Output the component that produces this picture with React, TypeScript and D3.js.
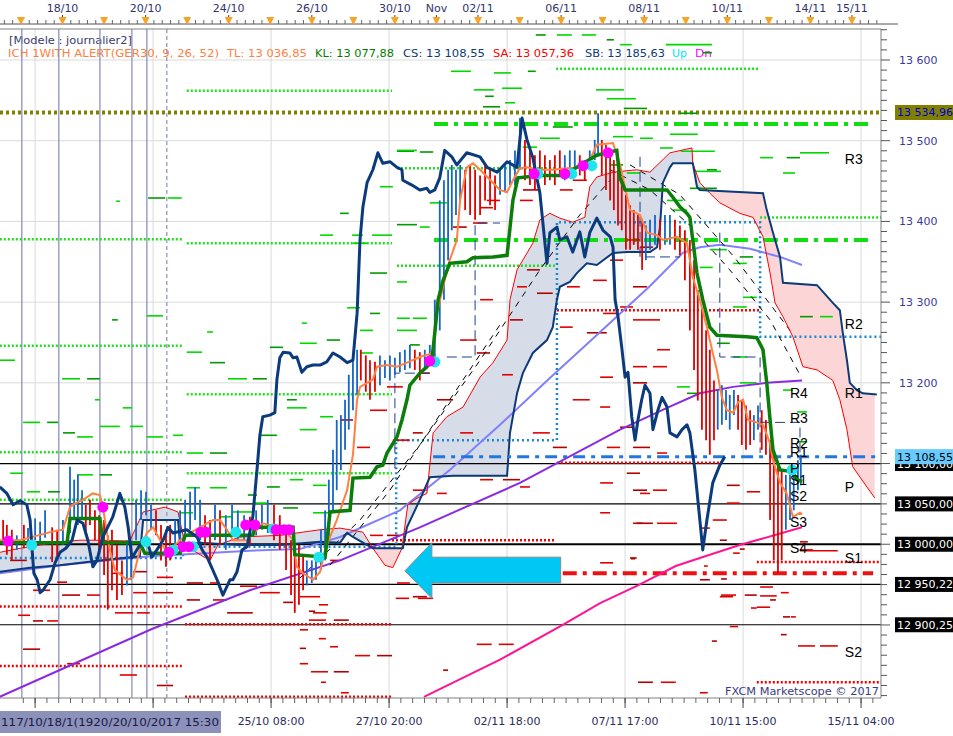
import React from "react";
import * as d3 from "d3";

// time axis: trading-day index (0 = 17/10), price axis: GER30 points
const W = 953;
const H = 736;
const plot = { left: 0, right: 881, top: 29, bottom: 698 };

const dayLabels: [number, string][] = [
  [1, "18/10"], [3, "20/10"], [5, "24/10"], [7, "26/10"], [9, "30/10"], [10, "Nov"],
  [11, "02/11"], [13, "06/11"], [15, "08/11"], [17, "10/11"], [19, "14/11"], [20, "15/11"],
];
const dayTicks = d3.range(0, 21);
const gridTimes = [0.34, 3.18, 6.02, 8.86, 11.7, 14.54, 17.38, 20.22];
const bottomLabels: [number, string][] = [
  [6.02, "25/10 08:00"], [8.86, "27/10 20:00"], [11.7, "02/11 18:00"],
  [14.54, "07/11 17:00"], [17.38, "10/11 15:00"], [20.22, "15/11 04:00"],
];
const priceTicks = [13200, 13300, 13400, 13500, 13600];
const sessionLines = [0.02, 0.91, 1.9, 2.67, 3.03];
const sessionDashed = [3.51];

const blackLevels = [13100, 13050, 13000, 12950.22, 12900.25];
const oliveLevel = 13534.96;
const lastClose = 13108.55;

// [tStart, tEnd, value]
const greenDashDot: [number, number, number][] = [[9.94, 20.48, 13520.7], [9.94, 20.48, 13377]];
const blueDashDot: [number, number, number][] = [[9.92, 20.7, 13108.55]];
const redDashDot: [number, number, number][] = [[13.04, 20.51, 12964]];

const greenDotted: [number, number, number][] = [
  [-0.51, 3.9, 13378], [-0.51, 3.9, 13246], [-0.51, 3.9, 13114], [-0.51, 3.9, 13055],
  [3.99, 8.93, 13562], [3.99, 8.93, 13373], [3.99, 8.93, 13186], [3.99, 8.93, 13088],
  [9.05, 12.85, 13466], [9.05, 12.85, 13345],
  [12.88, 17.79, 13589], [17.79, 20.7, 13405],
];
const redDotted: [number, number, number][] = [
  [-0.51, 3.9, 12923], [-0.51, 3.9, 12849],
  [3.95, 8.93, 12901], [3.95, 8.93, 12811],
  [8.93, 12.85, 13005],
  [12.9, 17.79, 13290], [12.9, 16.87, 13101],
  [17.71, 20.7, 12978], [17.71, 20.7, 12829],
];
const weeklyPivot: [number, number][] = [
  [-0.51, 12983], [3.9, 12997], [9.03, 13129], [12.9, 13399], [17.79, 13257], [20.7, 13257],
];

const greenDashes: [number, number, number][] = [
  [12.39, 12.63, 13631], [12.9, 13.26, 13631], [13.5, 13.84, 13631], [14.1, 14.27, 13625],
  [14.42, 14.7, 13619], [15.52, 16.63, 13619], [16.41, 16.63, 13609], [10.35, 10.83, 13586],
  [11.38, 11.79, 13584], [12.2, 12.39, 13586], [10.9, 11.38, 13563], [11.58, 12.06, 13565],
  [11.17, 11.38, 13555], [13.84, 14.51, 13563], [14.1, 14.8, 13552], [14.51, 15.07, 13540],
  [15.62, 16.29, 13508], [15.88, 16.7, 13487], [9.05, 9.46, 13487], [18.75, 19.45, 13485],
  [17.79, 18.1, 13479], [18.43, 18.75, 13479], [16.22, 16.85, 13462], [18.34, 18.63, 13460],
  [3.06, 3.47, 13429], [3.54, 3.87, 13429], [2.29, 2.38, 13425], [7.68, 7.89, 13410],
  [7.97, 8.23, 13383], [8.45, 8.93, 13383], [15.86, 16.27, 13534], [14.9, 15.21, 13503],
  [15.38, 15.69, 13491], [16.51, 16.75, 13464], [15.55, 15.93, 13426], [15.69, 16.03, 13414],
  [16.1, 16.75, 13441], [16.58, 16.99, 13365], [17.14, 17.47, 13348], [17.3, 17.62, 13356],
  [16.34, 16.65, 13343], [17.38, 17.71, 13306], [18.75, 19.06, 13282], [19.23, 19.54, 13282],
  [17.14, 17.47, 13294], [16.75, 17.06, 13249], [17.14, 17.47, 13232], [15.79, 16.1, 13195],
  [16.03, 16.34, 13187], [17.3, 17.71, 13200], [18.68, 18.92, 13164], [18.68, 18.92, 13127],
  [18.34, 18.58, 13191],
  [3.03, 3.42, 13283], [2.19, 2.33, 13278], [4.48, 4.62, 13263], [3.99, 4.36, 13238],
  [4.55, 4.91, 13225], [-0.51, -0.14, 13228], [0.99, 1.42, 13205], [1.59, 1.9, 13205],
  [2.45, 2.67, 13169], [4.98, 5.44, 13205], [5.58, 5.92, 13205], [1.78, 1.9, 13179],
  [6.76, 6.88, 13274], [5.99, 6.31, 13244], [6.71, 7.12, 13249], [0.05, 0.46, 13151],
  [0.63, 0.89, 13151], [1.9, 2.38, 13146], [2.62, 2.94, 13146], [1.01, 1.3, 13138],
  [1.35, 1.73, 13133], [3.99, 4.38, 13113], [4.55, 4.96, 13113], [3.03, 3.42, 13133],
  [3.66, 3.9, 13135], [6.4, 6.64, 13179], [6.4, 6.88, 13169], [7.2, 7.51, 13158],
  [5.75, 6.16, 13135], [6.71, 7.12, 13142], [0.14, 0.46, 13065], [0.65, 0.94, 13065],
  [-0.26, 0.05, 13088], [1.35, 1.73, 13086], [1.9, 2.19, 13086], [3.99, 4.31, 13070],
  [4.55, 4.96, 13070], [5.46, 5.68, 13061], [4.79, 5.1, 13034], [5.1, 5.58, 13040],
  [5.92, 6.23, 13071], [6.47, 6.79, 13080], [7.03, 7.36, 13073], [3.3, 3.71, 13030],
  [3.83, 4.14, 13039], [5.58, 5.92, 13051], [6.31, 6.67, 13045], [7.03, 7.44, 13039],
  [9.05, 9.53, 13488], [9.6, 9.92, 13486], [8.64, 8.95, 13443], [9.84, 10.25, 13423],
  [11.12, 11.53, 13542], [11.65, 11.89, 13547], [12.49, 12.97, 13503], [12.8, 13.28, 13517],
  [12.08, 12.42, 13492], [14.25, 14.73, 13505], [14.18, 14.49, 13470], [14.58, 14.9, 13460],
  [7.2, 7.51, 13383], [9.05, 9.53, 13396], [9.6, 9.84, 13393], [7.99, 8.33, 13373],
  [8.4, 8.81, 13336], [9.05, 9.29, 13325], [7.85, 8.16, 13293], [8.4, 8.64, 13286],
  [9.05, 9.36, 13280], [9.43, 9.77, 13280], [7.36, 7.68, 13253], [8.16, 8.47, 13265],
  [9.05, 9.53, 13265], [9.36, 9.6, 13247], [8.16, 8.47, 13237],
];

const redDashes: [number, number, number][] = [
  [-0.26, 0.14, 12980], [0.87, 1.11, 12953], [0.29, 0.7, 12943], [0.99, 1.42, 12937],
  [1.59, 1.9, 12937], [-0.07, 0.22, 12912], [0.29, 0.53, 12905], [0.63, 0.89, 12905],
  [2.19, 2.45, 12964], [2.7, 3.03, 12966], [3.27, 3.66, 12959], [2.7, 3.03, 12940],
  [3.18, 3.66, 12940], [2.26, 2.7, 12915], [2.79, 3.1, 12915], [3.99, 4.38, 12952],
  [4.55, 4.79, 12952], [5.27, 5.68, 12948], [3.99, 4.31, 12931], [4.62, 4.96, 12931],
  [5.75, 6.23, 12940], [6.31, 6.55, 12928], [6.71, 7.2, 12935], [7.03, 7.36, 12915],
  [4.96, 5.58, 12915], [9.02, 9.34, 12933], [9.55, 9.92, 12933], [6.93, 7.08, 12917],
  [7.17, 7.39, 12925], [6.93, 7.34, 12906], [7.53, 7.89, 12906], [6.71, 6.91, 12894],
  [7.17, 7.34, 12883], [6.71, 6.86, 12871], [7.44, 7.63, 12873], [8.04, 8.4, 12862],
  [8.57, 8.93, 12862], [6.71, 6.91, 12852], [6.98, 7.39, 12842], [7.53, 7.89, 12842],
  [7.22, 7.34, 12829], [7.7, 7.89, 12816], [10.16, 10.28, 12844], [10.97, 11.33, 12876],
  [11.5, 11.86, 12876], [14.85, 15.21, 12829], [15.4, 15.76, 12829], [16.34, 16.53, 12816],
  [16.63, 16.75, 12880], [17.06, 17.26, 12898], [16.85, 17.21, 12937], [17.42, 17.71, 12937],
  [17.79, 18.19, 12936], [18.29, 18.48, 12940], [18.03, 18.17, 12931], [17.57, 17.71, 12921],
  [18.53, 18.65, 12910], [18.29, 18.43, 12888], [18.7, 19.11, 12874], [19.23, 19.66, 12874],
  [16.85, 16.99, 12957], [16.44, 16.53, 12973], [14.68, 14.78, 12982], [17.3, 17.42, 12994],
  [18.75, 18.94, 13003], [18.75, 19.66, 12992],
  [0.05, 0.46, 12870], [1.11, 1.42, 12852], [2.38, 2.79, 12838], [3.27, 3.66, 12825],
  [10.88, 11.21, 13398], [11.05, 11.36, 13417], [10.4, 10.73, 13393], [11.21, 11.53, 13426],
  [12.01, 12.32, 13426], [12.08, 12.49, 13439], [10.57, 10.97, 13253], [11.05, 11.36, 13303],
  [10.97, 11.29, 13237], [11.58, 11.84, 13210], [9.6, 9.84, 13212], [10.01, 10.4, 13179],
  [8.4, 8.81, 13166], [8.81, 9.19, 13195], [7.68, 7.99, 13154], [8.09, 8.4, 13120],
  [8.95, 9.36, 13129], [9.43, 9.67, 13138], [10.57, 10.88, 13138], [12.32, 12.73, 13138],
  [12.8, 13.14, 13120], [12.01, 12.25, 13071], [11.05, 11.36, 13080], [11.6, 12.01, 13080],
  [10.01, 10.25, 13063], [9.43, 9.77, 13067], [8.81, 9.12, 13011], [8.4, 8.71, 13011],
  [7.44, 7.68, 12980], [9.43, 9.77, 12935], [9.05, 9.36, 12952], [14.1, 14.42, 13120],
  [14.58, 14.9, 13088], [14.73, 14.97, 13026], [14.9, 15.14, 13063], [14.42, 14.73, 13145],
  [13.28, 13.69, 13179], [13.94, 14.25, 13207], [13.62, 13.94, 13262], [14.01, 14.34, 13286],
  [12.97, 13.28, 13269], [12.42, 12.8, 13311], [11.94, 12.18, 13319], [13.14, 13.45, 13319],
  [12.18, 12.49, 13340], [12.97, 13.28, 13439], [13.28, 13.62, 13451], [11.77, 12.08, 13278],
  [13.77, 14.1, 13327], [14.42, 14.73, 13294], [14.73, 15.07, 13319], [14.18, 14.49, 13352],
  [14.58, 14.9, 13377], [14.9, 15.21, 13368],
  [14.73, 15.07, 13278], [15.07, 15.38, 13278], [13.94, 14.1, 13262], [14.73, 15.07, 13220],
  [15.21, 15.55, 13220], [14.73, 15.07, 13200], [15.31, 15.62, 13241], [13.94, 14.18, 13170],
  [14.73, 15.14, 13120], [15.31, 15.55, 13113], [13.94, 14.25, 13076], [14.73, 15.07, 13067],
  [15.21, 15.55, 13067], [13.94, 14.18, 13039], [14.82, 15.21, 13026], [15.31, 15.79, 13026],
  [13.94, 14.25, 12977], [14.66, 14.82, 12983], [16.34, 16.58, 13020], [16.65, 16.99, 13030],
  [16.99, 17.3, 13073], [16.99, 17.3, 13051], [17.47, 17.79, 13065], [16.82, 16.99, 13005],
  [17.14, 17.3, 12989], [17.79, 18.1, 12947], [16.34, 16.58, 12956], [16.82, 17.14, 12935],
  [17.71, 18.03, 12922], [18.34, 18.51, 12910], [18.75, 19.06, 12993],
];

// daily range boxes (thin navy dashed)
const rangeBoxes: [number, number][][] = [
  [[10.25, 13232], [10.93, 13232], [10.93, 13398], [11.53, 13398]],
  [[9.84, 13212], [9.0, 13212], [9.0, 13092]],
  [[14.9, 13480], [14.9, 13356], [15.86, 13356]],
  [[16.82, 13386], [16.82, 13232], [17.79, 13232], [17.79, 13113]],
  [[17.79, 13151], [18.75, 13151], [18.75, 13104]],
];

// price bars [t, high, low, up]
const bars: [number, number, number, number][] = [
  [-0.43, 13030, 12999, 0], [-0.34, 13024, 12987, 0], [-0.22, 13018, 12980, 0], [-0.1, 13011, 12993, 1],
  [0.07, 13024, 12995, 0], [0.17, 13020, 12999, 1], [0.34, 13032, 13005, 1], [0.46, 13028, 12999, 1],
  [0.58, 13042, 13008, 1], [0.75, 13021, 12978, 0], [0.87, 13018, 12980, 0], [1.01, 13030, 12999, 1],
  [1.18, 13096, 13014, 1], [1.28, 13080, 13030, 1], [1.37, 13086, 13024, 1], [1.47, 13067, 13030, 1],
  [1.56, 13049, 13011, 0], [1.66, 13055, 13024, 0], [1.78, 13042, 13005, 0], [1.88, 13036, 12993, 0],
  [2.0, 13030, 12962, 0], [2.09, 13011, 12919, 0], [2.19, 13018, 12943, 0], [2.31, 12999, 12931, 0],
  [2.43, 12980, 12937, 0], [2.55, 13005, 12949, 1], [2.65, 12999, 12956, 1], [2.77, 13055, 13005, 1],
  [2.89, 13067, 13030, 1], [3.01, 13065, 13036, 1], [3.13, 13049, 13018, 1], [3.25, 13042, 13011, 0],
  [3.37, 13024, 12980, 0], [3.49, 13018, 12972, 0], [3.59, 13024, 12980, 0], [3.71, 13030, 12993, 1],
  [3.83, 13042, 13005, 1], [3.95, 13055, 13011, 1], [4.07, 13065, 13018, 1], [4.19, 13071, 13030, 1],
  [4.31, 13055, 13005, 1], [4.43, 13036, 12999, 0], [4.55, 13030, 12980, 0], [4.67, 13049, 13005, 1],
  [4.79, 13042, 12999, 0], [4.93, 13036, 12993, 1], [5.08, 13049, 13011, 1], [5.22, 13042, 13005, 1],
  [5.37, 13036, 13005, 1], [5.51, 13034, 12999, 0], [5.66, 13042, 13011, 1], [5.8, 13049, 13018, 1],
  [5.94, 13055, 13014, 1], [6.09, 13049, 13005, 0], [6.23, 13036, 12993, 0], [6.38, 13018, 12968, 0],
  [6.5, 13005, 12937, 0], [6.59, 12993, 12915, 0], [6.69, 12999, 12925, 0], [6.79, 12987, 12943, 0],
  [6.88, 12980, 12949, 1], [7.0, 12980, 12952, 1], [7.1, 12987, 12956, 1], [7.22, 13018, 12968, 1],
  [7.32, 13042, 12980, 1], [7.41, 13080, 13005, 1], [7.51, 13117, 13042, 1], [7.6, 13154, 13067, 1],
  [7.7, 13160, 13092, 1], [7.8, 13179, 13117, 1], [7.89, 13210, 13142, 1], [7.99, 13228, 13166, 1],
  [8.09, 13241, 13185, 1], [8.18, 13241, 13203, 0], [8.3, 13234, 13189, 0], [8.4, 13228, 13179, 0],
  [8.52, 13226, 13189, 0], [8.64, 13234, 13197, 1], [8.76, 13228, 13206, 1], [8.88, 13234, 13203, 1],
  [9.0, 13231, 13210, 1], [9.12, 13238, 13213, 1], [9.24, 13241, 13216, 1], [9.36, 13247, 13218, 1],
  [9.48, 13241, 13216, 0], [9.6, 13238, 13203, 0], [9.72, 13241, 13216, 1], [9.84, 13247, 13222, 1],
  [9.96, 13303, 13228, 1], [10.08, 13426, 13265, 1], [10.18, 13451, 13303, 1], [10.28, 13464, 13352, 1],
  [10.37, 13470, 13389, 1], [10.47, 13464, 13408, 1], [10.57, 13470, 13426, 1], [10.69, 13464, 13414, 0],
  [10.81, 13470, 13408, 0], [10.93, 13464, 13402, 0], [11.05, 13457, 13408, 0], [11.17, 13470, 13426, 0],
  [11.29, 13464, 13420, 0], [11.41, 13457, 13414, 0], [11.53, 13464, 13433, 1], [11.65, 13470, 13436, 1],
  [11.77, 13476, 13445, 1], [11.89, 13488, 13445, 1], [12.01, 13528, 13464, 1], [12.13, 13501, 13451, 0],
  [12.25, 13488, 13445, 0], [12.37, 13482, 13439, 0], [12.49, 13488, 13457, 0], [12.61, 13482, 13445, 0],
  [12.73, 13476, 13451, 0], [12.85, 13482, 13445, 0], [12.97, 13488, 13457, 0], [13.09, 13482, 13451, 1],
  [13.21, 13488, 13461, 1], [13.33, 13488, 13464, 1], [13.45, 13482, 13457, 0], [13.57, 13476, 13451, 0],
  [13.69, 13488, 13464, 1], [13.81, 13501, 13476, 1], [13.89, 13534, 13482, 1], [13.98, 13501, 13457, 0],
  [14.08, 13495, 13439, 0], [14.18, 13488, 13426, 0], [14.27, 13476, 13414, 0], [14.37, 13464, 13395, 0],
  [14.46, 13451, 13389, 0], [14.56, 13433, 13365, 0], [14.66, 13420, 13365, 0], [14.75, 13414, 13371, 0],
  [14.85, 13408, 13365, 0], [14.95, 13402, 13340, 0], [15.04, 13395, 13352, 1], [15.14, 13402, 13365, 1],
  [15.26, 13408, 13371, 1], [15.38, 13402, 13365, 0], [15.5, 13408, 13371, 1], [15.62, 13408, 13371, 1],
  [15.74, 13402, 13365, 0], [15.86, 13395, 13358, 0], [15.98, 13389, 13327, 0], [16.1, 13377, 13265, 0],
  [16.2, 13352, 13216, 0], [16.29, 13315, 13178, 0], [16.39, 13290, 13142, 0], [16.49, 13265, 13129, 0],
  [16.58, 13241, 13111, 0], [16.68, 13203, 13129, 0], [16.77, 13191, 13142, 1], [16.87, 13197, 13148, 1],
  [16.97, 13191, 13154, 1], [17.06, 13185, 13142, 1], [17.16, 13191, 13160, 1], [17.26, 13185, 13142, 0],
  [17.35, 13178, 13123, 0], [17.45, 13172, 13117, 0], [17.55, 13166, 13123, 0], [17.64, 13160, 13129, 1],
  [17.74, 13172, 13142, 1], [17.83, 13166, 13117, 0], [17.93, 13154, 13111, 0], [18.03, 13129, 13030, 0],
  [18.12, 13117, 12980, 0], [18.22, 13098, 12964, 0], [18.31, 13092, 12980, 0], [18.41, 13086, 13018, 1],
  [18.51, 13092, 13030, 1], [18.6, 13098, 13042, 1], [18.7, 13104, 13067, 1], [18.77, 13111, 13073, 1],
];

// Ichimoku
const tenkan: [number, number][] = [
  [-0.51, 13005], [-0.02, 13005], [0.7, 13015], [1.01, 13018], [1.18, 13046], [1.25, 13049],
  [1.49, 13055], [1.73, 13063], [1.9, 13061], [1.97, 13046], [2.07, 13014], [2.14, 12993],
  [2.26, 12968], [2.55, 12956], [2.7, 12959], [2.86, 12993], [3.03, 13014], [3.18, 13021],
  [3.35, 13005], [3.51, 12989], [3.66, 12997], [3.83, 13005], [4.07, 13014], [4.31, 13021],
  [4.62, 13030], [4.79, 13030], [4.96, 13018], [5.1, 13005], [5.44, 13005], [5.68, 13018],
  [5.82, 13026], [6.31, 13020], [6.55, 13005], [6.64, 12972], [6.79, 12964], [7.03, 12956],
  [7.2, 12966], [7.32, 12993], [7.44, 13009], [7.6, 13030], [7.85, 13067], [7.99, 13111],
  [8.09, 13179], [8.16, 13195], [8.47, 13204], [8.57, 13220], [8.81, 13222], [9.05, 13220],
  [9.29, 13225], [9.6, 13232], [9.92, 13237], [10.01, 13286], [10.16, 13319], [10.32, 13352],
  [10.49, 13377], [10.57, 13426], [10.73, 13467], [10.88, 13472], [11.05, 13464], [11.36, 13448],
  [11.53, 13439], [11.7, 13436], [11.84, 13451], [12.01, 13466], [12.18, 13467], [12.49, 13464],
  [12.8, 13464], [13.14, 13466], [13.45, 13467], [13.69, 13476], [13.86, 13495], [14.25, 13497],
  [14.42, 13470], [14.66, 13414], [14.9, 13408], [15.07, 13386], [15.31, 13383], [15.45, 13377],
  [15.79, 13381], [16.03, 13373], [16.17, 13331], [16.34, 13303], [16.51, 13269], [16.65, 13237],
  [16.75, 13216], [16.87, 13182], [16.99, 13166], [17.14, 13163], [17.26, 13176], [17.38, 13179],
  [17.5, 13154], [17.71, 13151], [17.86, 13148], [18.03, 13125], [18.1, 13104], [18.27, 13076],
  [18.43, 13063], [18.58, 13034], [18.75, 13039], [18.8, 13036.85],
];
const kijun: [number, number][] = [
  [-0.51, 13002], [1.11, 13002], [1.18, 13032], [1.9, 13032], [1.97, 13002], [2.86, 13002],
  [2.98, 12989], [3.83, 12989], [3.95, 13011], [5.58, 13011], [5.63, 13021], [6.55, 13021],
  [6.59, 12987], [7.32, 12984], [7.44, 13040], [7.92, 13042], [7.99, 13082], [8.4, 13083],
  [8.57, 13096], [8.71, 13098], [8.81, 13113], [9.05, 13133], [9.17, 13154], [9.29, 13179],
  [9.36, 13197], [9.6, 13212], [9.77, 13220], [9.89, 13228], [9.96, 13262], [10.04, 13303],
  [10.16, 13327], [10.32, 13348], [10.73, 13350], [10.88, 13355], [11.36, 13356], [11.7, 13358],
  [11.84, 13426], [11.96, 13454], [12.49, 13457], [13.04, 13457], [13.28, 13464], [13.86, 13482],
  [14.34, 13488], [14.41, 13455], [14.54, 13439], [15.55, 13439], [15.69, 13430], [15.86, 13418],
  [16.03, 13410], [16.1, 13405], [16.17, 13377], [16.27, 13336], [16.41, 13303], [16.58, 13269],
  [16.75, 13259], [17.47, 13257], [17.71, 13256], [17.86, 13241], [17.95, 13200], [18.03, 13154],
  [18.1, 13117], [18.27, 13092], [18.56, 13090], [18.68, 13080], [18.8, 13077.88],
];
const chikou: [number, number][] = [
  [-0.51, 13071], [-0.34, 13063], [-0.19, 13049], [-0.02, 13054], [0.14, 13049], [0.22, 13030],
  [0.26, 12999], [0.31, 12964], [0.39, 12956], [0.46, 12940], [0.53, 12943], [0.7, 12956],
  [0.82, 12977], [0.94, 12990], [1.08, 12995], [1.23, 13005], [1.35, 13030], [1.49, 13026],
  [1.61, 13005], [1.73, 12972], [1.83, 12980], [1.97, 13009], [2.21, 13034], [2.38, 13063],
  [2.5, 13046], [2.58, 13021], [2.67, 12983], [2.86, 12999], [3.03, 13005], [3.15, 12984],
  [3.27, 12993], [3.42, 13005], [3.54, 13021], [3.66, 13014], [3.99, 13018], [4.24, 13009],
  [4.36, 12993], [4.48, 12984], [4.72, 12956], [4.86, 12937], [5.03, 12956], [5.1, 12956],
  [5.2, 12966], [5.32, 12993], [5.44, 12997], [5.58, 13034], [5.68, 13092], [5.75, 13135],
  [5.82, 13158], [5.99, 13160], [6.11, 13163], [6.16, 13204], [6.23, 13231], [6.31, 13238],
  [6.47, 13237], [6.55, 13231], [6.64, 13232], [6.76, 13213], [6.88, 13220], [7.03, 13222],
  [7.2, 13222], [7.36, 13226], [7.51, 13237], [7.68, 13232], [7.85, 13225], [7.99, 13228],
  [8.09, 13286], [8.16, 13377], [8.23, 13418], [8.33, 13448], [8.47, 13464], [8.59, 13485],
  [8.71, 13472], [8.88, 13474], [9.05, 13467], [9.17, 13464], [9.19, 13451], [9.41, 13445],
  [9.6, 13439], [9.77, 13441], [9.84, 13436], [9.96, 13439], [10.08, 13454], [10.2, 13488],
  [10.37, 13480], [10.49, 13470], [10.73, 13485], [11.05, 13480], [11.22, 13467], [11.46, 13461],
  [11.7, 13474], [11.94, 13467], [12.06, 13528], [12.18, 13501], [12.32, 13479], [12.49, 13435],
  [12.66, 13348], [12.73, 13386], [12.9, 13393], [12.97, 13377], [13.14, 13381], [13.28, 13362],
  [13.45, 13387], [13.57, 13356], [13.69, 13386], [13.86, 13404], [14.01, 13389], [14.18, 13381],
  [14.25, 13368], [14.3, 13303], [14.37, 13282], [14.46, 13244], [14.54, 13207], [14.61, 13213],
  [14.7, 13158], [14.78, 13129], [14.85, 13154], [14.94, 13179], [15.02, 13197], [15.14, 13187],
  [15.21, 13142], [15.33, 13166], [15.43, 13182], [15.55, 13170], [15.62, 13138], [15.79, 13133],
  [15.91, 13142], [16.03, 13148], [16.1, 13138], [16.22, 13092], [16.34, 13030], [16.41, 12993],
  [16.51, 13030], [16.65, 13076], [16.82, 13098], [16.94, 13108.55],
];
const senkouA: [number, number][] = [
  [-0.51, 12990], [-0.02, 12995], [0.46, 12999], [0.94, 13003], [1.42, 13005], [1.9, 13005],
  [2.62, 13004], [2.94, 13040], [3.47, 13046], [3.78, 13040], [3.95, 12999], [4.31, 12987],
  [4.55, 12980], [4.74, 12999], [5.27, 13009], [6.23, 13011], [7.2, 13018], [7.68, 13020],
  [8.23, 13015], [8.47, 12995], [8.76, 12974], [8.95, 12971], [9.17, 12995], [9.31, 13049],
  [9.53, 13057], [9.77, 13063], [9.92, 13138], [10.25, 13158], [10.64, 13170], [11.05, 13207],
  [11.36, 13225], [11.7, 13253], [11.77, 13303], [11.94, 13340], [12.32, 13373], [12.49, 13402],
  [12.73, 13410], [12.97, 13404], [13.28, 13399], [13.57, 13405], [13.69, 13443], [13.86, 13455],
  [14.25, 13461], [14.82, 13464], [15.14, 13461], [15.26, 13467], [15.62, 13485], [16.15, 13491],
  [16.17, 13472], [16.34, 13448], [16.58, 13435], [16.82, 13423], [17.3, 13410], [17.62, 13405],
  [17.86, 13381], [18.03, 13336], [18.15, 13299], [18.34, 13282], [18.58, 13257], [18.82, 13220],
  [19.16, 13216], [19.54, 13203], [19.71, 13179], [19.88, 13142], [20.02, 13096], [20.36, 13071],
  [20.55, 13057.36],
];
const senkouB: [number, number][] = [
  [-0.51, 12966], [0.22, 12971], [0.94, 12974], [1.9, 12980], [2.86, 12985], [2.94, 13030],
  [3.78, 13030], [3.83, 12998], [4.31, 13002], [5.27, 12999], [6.23, 12999], [7.2, 13003],
  [7.68, 13002], [7.85, 13014], [7.99, 13009], [8.23, 13002], [8.47, 12995], [9.19, 12995],
  [9.29, 13021], [9.6, 13055], [9.84, 13083], [10.4, 13085], [11.7, 13085], [11.77, 13138],
  [11.94, 13187], [12.08, 13212], [12.32, 13237], [12.66, 13253], [12.8, 13269], [12.9, 13303],
  [12.97, 13319], [13.21, 13325], [13.38, 13336], [13.62, 13348], [13.86, 13346], [14.25, 13361],
  [14.58, 13362], [15.14, 13362], [15.31, 13368], [15.38, 13393], [15.45, 13448], [15.62, 13467],
  [15.69, 13472], [16.17, 13472], [16.27, 13443], [16.34, 13439], [17.86, 13435], [17.95, 13414],
  [18.1, 13386], [18.27, 13356], [18.34, 13324], [19.16, 13321], [19.54, 13299], [19.71, 13290],
  [19.78, 13262], [19.88, 13228], [19.95, 13200], [20.12, 13191], [20.26, 13187], [20.6, 13185.63],
];

// moving averages
const maPurple: [number, number][] = [
  [-0.51, 12811], [3.15, 12895], [5.51, 12943], [7.68, 12980], [9.6, 13021], [12.01, 13076],
  [14.42, 13142], [15.55, 13169], [16.34, 13187], [17.14, 13195], [17.95, 13200], [18.8, 13203],
];
const maLight: [number, number][] = [
  [-0.51, 12964], [0.94, 12974], [3.1, 12985], [5.51, 12992], [6.71, 12994], [7.68, 13009],
  [9.12, 13042], [10.32, 13092], [11.53, 13148], [12.73, 13206], [13.94, 13263], [15.14, 13320],
  [15.93, 13361], [16.34, 13368], [16.82, 13371], [17.55, 13366], [18.27, 13356], [18.8, 13346],
];
const maPink: [number, number][] = [
  [9.7, 12811], [11.53, 12857], [13.04, 12900], [13.94, 12927], [14.85, 12949], [15.76, 12973],
  [16.34, 12983], [17.3, 12999], [18.8, 13021],
];
const trendLines: [number, number][][] = [
  [[6.71, 12958], [8.16, 13030], [9.6, 13123], [11.05, 13228], [12.49, 13340], [13.45, 13408], [14.18, 13451]],
  [[14.18, 13464], [15.14, 13439], [16.1, 13395], [17.06, 13340], [18.03, 13278], [18.75, 13210]],
  [[7.44, 12974], [8.88, 13067], [10.32, 13179], [11.53, 13272]],
  [[14.66, 13470], [15.86, 13433], [17.18, 13355], [18.51, 13265]],
];

// signals [t, value]
const upSignals: [number, number][] = [
  [0.26, 12999], [3.01, 13003], [3.66, 12993], [4.14, 12997], [5.17, 13015], [6.07, 13019],
  [7.17, 12984], [9.96, 13226], [12.44, 13459], [13.26, 13459], [13.74, 13469], [18.56, 13092],
];
const dnSignals: [number, number][] = [
  [-0.31, 13004], [1.97, 13046], [3.56, 12990], [3.9, 12997], [4.04, 12997], [4.33, 13015],
  [4.45, 13015], [5.41, 13024], [5.63, 13024], [6.14, 13018], [6.33, 13018], [6.45, 13018],
  [9.84, 13227], [12.35, 13459], [13.09, 13459], [13.53, 13469], [14.13, 13485],
];

// pivot labels [t, value, text]
const pivotLabels: [number, number, string][] = [
  [19.83, 13477, "R3"], [19.83, 13273, "R2"], [19.83, 13187, "R1"], [19.83, 13071, "P"],
  [19.83, 12983, "S1"], [19.83, 12866, "S2"],
  [18.51, 13187, "R4"], [18.51, 13156, "R3"], [18.51, 13125, "R2"], [18.51, 13114, "R1"],
  [18.51, 13094, "P"], [18.51, 13080, "S1"], [18.51, 13060, "S2"], [18.51, 13028, "S3"],
  [18.51, 12995, "S4"],
];

const arrow = {
  tipT: 9.24, headT: 9.89, tailT: 12.99,
  midV: 12967, headTopV: 13002, headBottomV: 12933, shaftTopV: 12984, shaftBottomV: 12952,
};

const header2: [string, string, number, number][] = [
  ["ICH 1WITH ALERT(GER30, 9, 26, 52)", "#ff7f3f", 8, 211],
  ["TL: 13 036,85", "#ff7f3f", 227, 80],
  ["KL: 13 077,88", "#008000", 315, 79],
  ["CS: 13 108,55", "#0d3a78", 403, 82],
  ["SA: 13 057,36", "#ff0000", 493, 81],
  ["SB: 13 185,63", "#0d3a78", 585, 80],
  ["Up", "#00e5ff", 672, 15],
  ["Dn", "#ff00ff", 695, 17],
];

const x = d3.scaleLinear().domain([-0.505, 20.7]).range([plot.left, plot.right]);
const y = d3.scaleLinear().domain([12809.5, 13638.4]).range([plot.bottom, plot.top]);

const line = d3
  .line<[number, number]>()
  .x((d) => x(d[0]))
  .y((d) => y(d[1]));

const interp = (arr: [number, number][], t: number) => {
  if (t <= arr[0][0]) return arr[0][1];
  for (let i = 1; i < arr.length; i++) {
    if (t <= arr[i][0]) {
      const [t0, v0] = arr[i - 1];
      const [t1, v1] = arr[i];
      return t1 === t0 ? v1 : v0 + ((v1 - v0) * (t - t0)) / (t1 - t0);
    }
  }
  return arr[arr.length - 1][1];
};

const fmt = (v: number) => {
  const s = v.toFixed(2).replace(".", ",");
  const [i, f] = s.split(",");
  return i.slice(0, i.length - 3) + " " + i.slice(-3) + "," + f;
};

const FONT = "DejaVu Sans, Verdana, sans-serif";

const App: React.FC = () => {
  const tStart = Math.max(senkouA[0][0], senkouB[0][0]);
  const tEnd = Math.min(senkouA[senkouA.length - 1][0], senkouB[senkouB.length - 1][0]);
  const grid = Array.from(new Set([...senkouA, ...senkouB].map((d) => d[0])))
    .filter((t) => t >= tStart && t <= tEnd)
    .sort((a, b) => a - b);
  const cloud = grid.map((t) => [t, interp(senkouA, t), interp(senkouB, t)] as [number, number, number]);
  const cloudArea = d3
    .area<[number, number, number]>()
    .x((d) => x(d[0]))
    .y0((d) => y(d[1]))
    .y1((d) => y(d[2]))(cloud) as string;
  const aboveB = d3
    .area<[number, number]>()
    .x((d) => x(d[0]))
    .y0(plot.top - 10)
    .y1((d) => y(d[1]))(senkouB) as string;
  const belowB = d3
    .area<[number, number]>()
    .x((d) => x(d[0]))
    .y0((d) => y(d[1]))
    .y1(plot.bottom + 10)(senkouB) as string;

  const stepLine = d3
    .line<[number, number]>()
    .x((d) => x(d[0]))
    .y((d) => y(d[1]))
    .curve(d3.curveStepAfter);

  const minorTop = d3.range(-0.4, 20.7, 0.2);
  const minorBottom = d3.range(0.34 - 2.84 * 0.1, 20.7, 0.284);
  const minorRight = d3.range(12812.5, 13638, 12.5);

  const hSeg = (d: [number, number, number]) => ({ x1: x(d[0]), x2: x(d[1]), y: y(d[2]) });

  const boxLabel = (v: number, bg: string, fg: string, key: string) => (
    <g key={key}>
      <rect x={895} y={y(v) - 7.5} width={60} height={15} fill={bg} />
      <text x={897} y={y(v) + 4} fontSize={11} fontFamily={FONT} fill={fg}>
        {fmt(v)}
      </text>
    </g>
  );

  const ax = arrow;
  const arrowPts = [
    [x(ax.tipT), y(ax.midV)],
    [x(ax.headT), y(ax.headTopV)],
    [x(ax.headT), y(ax.shaftTopV)],
    [x(ax.tailT), y(ax.shaftTopV)],
    [x(ax.tailT), y(ax.shaftBottomV)],
    [x(ax.headT), y(ax.shaftBottomV)],
    [x(ax.headT), y(ax.headBottomV)],
  ]
    .map((p) => p.join(","))
    .join(" ");

  return (
    <div style={{ position: "absolute", left: 0, top: 0 }}>
      <svg width={W} height={H} style={{ display: "block", background: "#fff" }}>
        <defs>
          <clipPath id="plotClip">
            <rect x={plot.left} y={plot.top} width={plot.right - plot.left} height={plot.bottom - plot.top} />
          </clipPath>
          <clipPath id="aboveB">
            <path d={aboveB} />
          </clipPath>
          <clipPath id="belowB">
            <path d={belowB} />
          </clipPath>
        </defs>
        <rect x={0} y={0} width={W} height={H} fill="#fff" />

        {/* top time ruler */}
        <line x1={0} x2={898} y1={24} y2={24} stroke="#555" />
        {minorTop.map((t, i) => (
          <line key={"mt" + i} x1={x(t)} x2={x(t)} y1={20} y2={24} stroke="#666" />
        ))}
        {dayLabels.map(([t, s]) => (
          <g key={"dl" + s}>
            <line x1={x(t)} x2={x(t)} y1={15} y2={24} stroke="#444" />
            <text x={x(t)} y={12} textAnchor="middle" fontSize={11} fontFamily={FONT} fill="#33336b">
              {s}
            </text>
          </g>
        ))}
        {dayTicks.map((t) => (
          <path
            key={"tri" + t}
            d={`M${x(t) - 4},17 L${x(t) + 4},17 L${x(t)},25 Z`}
            fill="#f7a325"
          />
        ))}

        <g clipPath="url(#plotClip)">
          {/* grid */}
          {priceTicks.map((v) => (
            <line key={"hg" + v} x1={plot.left} x2={plot.right} y1={y(v)} y2={y(v)} stroke="#dadada" />
          ))}
          {gridTimes.map((t) => (
            <line key={"vg" + t} x1={x(t)} x2={x(t)} y1={plot.top} y2={plot.bottom} stroke="#dadada" />
          ))}

          {/* header */}
          <text x={9} y={44} fontSize={11} fontFamily={FONT} fill="#3a3a6e" textLength={123} lengthAdjust="spacingAndGlyphs">
            [Modele : journalier2]
          </text>
          {header2.map(([s, c, px, w]) => (
            <text key={s} x={px} y={57} fontSize={11} fontFamily={FONT} fill={c} textLength={w} lengthAdjust="spacingAndGlyphs">
              {s}
            </text>
          ))}

          {/* cloud */}
          <path d={cloudArea} fill="#d6dde9" clipPath="url(#aboveB)" />
          <path d={cloudArea} fill="#fcd6d6" clipPath="url(#belowB)" />

          {/* session lines */}
          {sessionLines.map((t) => (
            <line key={"sl" + t} x1={x(t)} x2={x(t)} y1={plot.top} y2={plot.bottom} stroke="#8a92bd" strokeWidth={1.3} />
          ))}
          {sessionDashed.map((t) => (
            <line key={"sd" + t} x1={x(t)} x2={x(t)} y1={plot.top} y2={plot.bottom} stroke="#8a92bd" strokeWidth={1.2} strokeDasharray="4,3" />
          ))}

          {/* level lines */}
          {blackLevels.map((v) => (
            <line key={"bl" + v} x1={plot.left} x2={plot.right} y1={y(v)} y2={y(v)} stroke="#000" strokeWidth={v === 13000 ? 2 : 1.2} />
          ))}
          <line x1={plot.left} x2={plot.right} y1={y(oliveLevel)} y2={y(oliveLevel)} stroke="#808000" strokeWidth={4} strokeDasharray="3,3" />

          {greenDotted.map((d, i) => {
            const s = hSeg(d);
            return <line key={"gdt" + i} x1={s.x1} x2={s.x2} y1={s.y} y2={s.y} stroke="#22dd22" strokeWidth={2.5} strokeDasharray="2,2" />;
          })}
          {redDotted.map((d, i) => {
            const s = hSeg(d);
            return <line key={"rdt" + i} x1={s.x1} x2={s.x2} y1={s.y} y2={s.y} stroke="#ee0000" strokeWidth={2.5} strokeDasharray="2,2" />;
          })}
          <path d={stepLine(weeklyPivot) as string} fill="none" stroke="#1b88cf" strokeWidth={2.5} strokeDasharray="2,3" />

          {greenDashDot.map((d, i) => {
            const s = hSeg(d);
            return <line key={"gdd" + i} x1={s.x1} x2={s.x2} y1={s.y} y2={s.y} stroke="#12dd12" strokeWidth={4} strokeDasharray="14,6,4,6" />;
          })}
          {redDashDot.map((d, i) => {
            const s = hSeg(d);
            return <line key={"rdd" + i} x1={s.x1} x2={s.x2} y1={s.y} y2={s.y} stroke="#ee1111" strokeWidth={4} strokeDasharray="14,6,4,6" />;
          })}

          {/* short pivot dashes */}
          {greenDashes.map((d, i) => {
            const s = hSeg(d);
            return <line key={"gd" + i} x1={s.x1} x2={s.x2} y1={s.y} y2={s.y} stroke={i % 3 === 0 ? "#009a00" : "#00d800"} strokeWidth={1.6} />;
          })}
          {redDashes.map((d, i) => {
            const s = hSeg(d);
            return <line key={"rd" + i} x1={s.x1} x2={s.x2} y1={s.y} y2={s.y} stroke={i % 3 === 0 ? "#b00000" : "#e00000"} strokeWidth={1.6} />;
          })}

          {/* moving averages and trend lines */}
          <path d={line(maLight) as string} fill="none" stroke="#8080ff" strokeWidth={2} />
          <path d={line(maPurple) as string} fill="none" stroke="#8a2be2" strokeWidth={2} />
          <path d={line(maPink) as string} fill="none" stroke="#ff1493" strokeWidth={2} />
          {trendLines.map((tl, i) => (
            <path key={"tl" + i} d={line(tl) as string} fill="none" stroke="#000" strokeWidth={1} strokeDasharray="6,6" />
          ))}
          {rangeBoxes.map((b, i) => (
            <path key={"rb" + i} d={line(b) as string} fill="none" stroke="#1f3f8f" strokeWidth={1} strokeDasharray="10,5" />
          ))}

          <path d={line(senkouA) as string} fill="none" stroke="#ff0000" strokeWidth={1} />
          <path d={line(senkouB) as string} fill="none" stroke="#0d3a78" strokeWidth={2} />

          {blueDashDot.map((d, i) => {
            const s = hSeg(d);
            return <line key={"bdd" + i} x1={s.x1} x2={s.x2} y1={s.y} y2={s.y} stroke="#2277dd" strokeWidth={3} strokeDasharray="12,6,4,6" />;
          })}

          {/* price bars */}
          {bars.map(([t, hi, lo, up], i) => (
            <line key={"b" + i} x1={x(t)} x2={x(t)} y1={y(hi)} y2={y(lo)} stroke={up ? "#1565c8" : "#e00000"} strokeWidth={1.8} />
          ))}

          <path d={line(tenkan) as string} fill="none" stroke="#ff8040" strokeWidth={2} />
          <path d={line(kijun) as string} fill="none" stroke="#0a7d0a" strokeWidth={3.5} />
          <path d={line(chikou) as string} fill="none" stroke="#0b3b7c" strokeWidth={3} strokeLinejoin="round" />

          {upSignals.map(([t, v], i) => (
            <circle key={"u" + i} cx={x(t)} cy={y(v)} r={5.5} fill="#1ee6ee" />
          ))}
          {dnSignals.map(([t, v], i) => (
            <circle key={"d" + i} cx={x(t)} cy={y(v)} r={5.5} fill="#ff00ff" />
          ))}

          <polygon points={arrowPts} fill="#00c8f5" stroke="#888" strokeWidth={1} />

          {pivotLabels.map(([t, v, s], i) => (
            <text key={"pl" + i} x={x(t)} y={y(v) + 5} fontSize={14} fontFamily="Liberation Sans, Arial, sans-serif" fill="#000">
              {s}
            </text>
          ))}

          <text x={725} y={695} fontSize={11} fontFamily={FONT} fill="#3c3c7c" textLength={154} lengthAdjust="spacingAndGlyphs">
            FXCM Marketscope © 2017
          </text>
        </g>

        {/* frame */}
        <line x1={0} x2={plot.right} y1={plot.top} y2={plot.top} stroke="#808080" />
        <line x1={0} x2={plot.right} y1={plot.bottom} y2={plot.bottom} stroke="#808080" />
        <line x1={plot.right} x2={plot.right} y1={plot.top} y2={plot.bottom} stroke="#808080" />

        {/* right axis */}
        {minorRight.map((v, i) => (
          <line key={"mr" + i} x1={plot.right} x2={plot.right + (v % 100 === 0 ? 9 : 6)} y1={y(v)} y2={y(v)} stroke="#555" />
        ))}
        {priceTicks.map((v) => (
          <text key={"pt" + v} x={899} y={y(v) + 4} fontSize={11} fontFamily={FONT} fill="#3a3a9a">
            {d3.format(",")(v).replace(",", " ")}
          </text>
        ))}
        {boxLabel(oliveLevel, "#808000", "#0000cc", "ol")}
        {blackLevels.map((v) => boxLabel(v, "#000", "#fff", "bx" + v))}
        {boxLabel(lastClose, "#66ccff", "#000", "lc")}

        {/* bottom axis */}
        {minorBottom.map((t, i) => (
          <line key={"mb" + i} x1={x(t)} x2={x(t)} y1={plot.bottom} y2={plot.bottom + 5} stroke="#666" />
        ))}
        {gridTimes.map((t) => (
          <line key={"bt" + t} x1={x(t)} x2={x(t)} y1={plot.bottom} y2={plot.bottom + 10} stroke="#444" />
        ))}
        {bottomLabels.map(([t, s]) => (
          <text key={"bl" + s} x={x(t)} y={725} textAnchor="middle" fontSize={11} fontFamily={FONT} fill="#2c2c5c">
            {s}
          </text>
        ))}
        <rect x={0} y={711} width={221} height={22} fill="#8c91ba" />
        <text x={1} y={726} fontSize={11} fontFamily={FONT} fill="#1a1a48" textLength={218} lengthAdjust="spacingAndGlyphs">
          117/10/18/1(1920/20/10/2017 15:30
        </text>
      </svg>
    </div>
  );
};

export default App;
